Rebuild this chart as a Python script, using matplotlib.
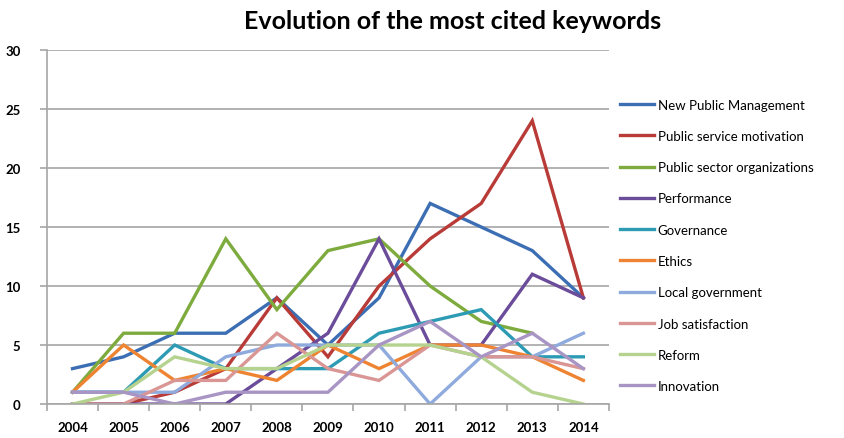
import matplotlib.pyplot as plt
import numpy as np

years = [2004, 2005, 2006, 2007, 2008, 2009, 2010, 2011, 2012, 2013, 2014]

new_public_management = [3, 4, 6, 6, 9, 5, 9, 17, 15, 13, 9]
public_service_motivation = [0, 0, 1, 3, 9, 4, 10, 14, 17, 24, 9]
public_sector_organizations = [1, 6, 6, 14, 8, 13, 14, 10, 7, 6, np.nan]
performance = [0, 0, 0, 0, 3, 6, 14, 5, 5, 11, 9]
governance = [1, 1, 5, 3, 3, 3, 6, 7, 8, 4, 4]
ethics = [1, 5, 2, 3, 2, 5, 3, 5, 5, 4, 2]
local_government = [1, 1, 1, 4, 5, 5, 5, 0, 4, 4, 6]
job_satisfaction = [0, 0, 2, 2, 6, 3, 2, 5, 4, 4, 3]
reform = [0, 1, 4, 3, 3, 5, 5, 5, 4, 1, 0]
innovation = [1, 1, 0, 1, 1, 1, 5, 7, 4, 6, 3]

series = [
    ("New Public Management", new_public_management, "#3C6EB4"),
    ("Public service motivation", public_service_motivation, "#B83B38"),
    ("Public sector organizations", public_sector_organizations, "#7EAB3E"),
    ("Performance", performance, "#6B4C9A"),
    ("Governance", governance, "#2E9BB5"),
    ("Ethics", ethics, "#EE8432"),
    ("Local government", local_government, "#8FAADC"),
    ("Job satisfaction", job_satisfaction, "#D99694"),
    ("Reform", reform, "#B5D38F"),
    ("Innovation", innovation, "#A895C4"),
]

plt.rcParams["font.family"] = ["Lato", "DejaVu Sans"]

fig = plt.figure(figsize=(8.45, 4.39), dpi=100)
ax = fig.add_axes([0.0556, 0.0774, 0.665, 0.8064])

for name, values, color in series:
    ax.plot(years, values, color=color, linewidth=2.4, label=name,
            solid_joinstyle="miter")

ax.set_xlim(2003.5, 2014.5)
ax.set_ylim(0, 30)
ax.set_yticks(range(0, 31, 5))
ax.set_xticks(years)
ax.set_xticks(np.arange(2003.5, 2015, 1), minor=True)
ax.grid(axis="y", color="#A6A6A6", linewidth=1.2)
ax.set_axisbelow(True)

for side in ["top", "right"]:
    ax.spines[side].set_visible(False)
for side in ["left", "bottom"]:
    ax.spines[side].set_color("#A6A6A6")
    ax.spines[side].set_linewidth(1.2)

ax.tick_params(axis="x", which="major", length=0, pad=12, labelsize=9.5)
ax.tick_params(axis="x", which="minor", length=5, color="#A6A6A6", width=1.2)
ax.tick_params(axis="y", length=5, color="#A6A6A6", width=1.2, pad=14, labelsize=9.5)
for lbl in ax.get_xticklabels() + ax.get_yticklabels():
    lbl.set_fontweight("bold")

fig.text(0.535, 0.95, "Evolution of the most cited keywords", ha="center",
         va="center", fontsize=18, fontweight="bold")

fig.legend(loc="upper left", bbox_to_anchor=(0.727, 0.785), frameon=False,
           fontsize=9.5, handlelength=2.6, handletextpad=0.3, labelspacing=1.46,
           borderaxespad=0)

fig.savefig("out.png", dpi=100)
